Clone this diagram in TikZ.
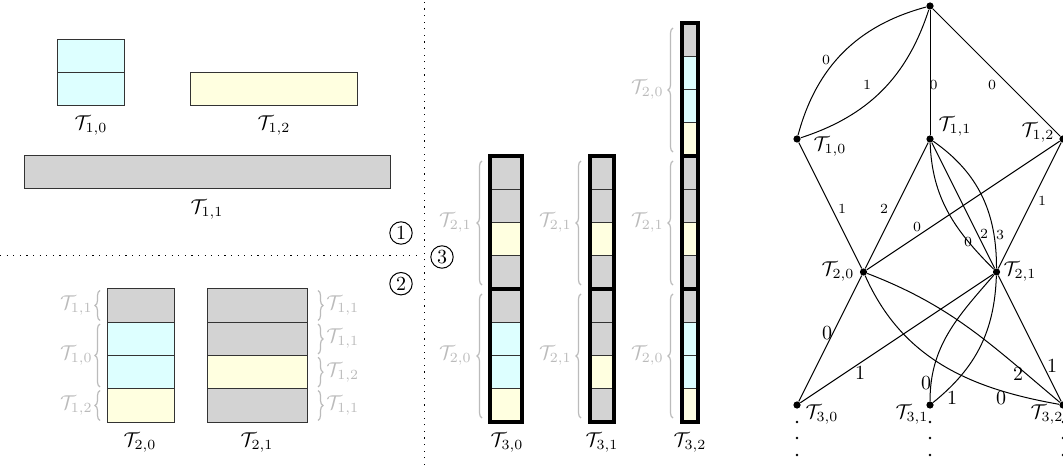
\documentclass[tikz,border=0pt]{standalone}
\usetikzlibrary{decorations.pathreplacing}
\definecolor{cellcyan}{HTML}{DDFFFF}
\definecolor{cellyellow}{HTML}{FFFFE0}
\definecolor{cellgray}{HTML}{D3D3D3}
\definecolor{faint}{HTML}{BBBBBB}

% a stack of cells of height 33.25, drawn downwards from the top edge #3
\newcommand{\cellstack}[4]{%
  \foreach \c [count=\i from 0] in {#4} {
    \path[cellbox, fill=\c] (#1,{#3-\i*33.25}) rectangle (#2,{#3-(\i+1)*33.25});
  }}

\begin{document}
\begin{tikzpicture}[x=0.5pt,y=0.5pt,
  cellbox/.style={draw=black!80, line width=0.5pt},
  blockrim/.style={draw=black, line width=1.6pt},
  faintlabel/.style={text=faint, inner sep=0pt},
  fbrace/.style={draw=faint, line width=0.6pt, decorate,
                 decoration={brace, amplitude=2.5pt}},
  sepline/.style={line width=0.6pt, dash pattern=on 0.6pt off 2.7pt},
  stepmark/.style={circle, draw, line width=0.5pt, inner sep=0pt, minimum size=11.2pt},
  gdot/.style={circle, fill, inner sep=0pt, minimum size=3.6pt},
  tailcont/.style={circle, fill, inner sep=0pt, minimum size=1.3pt},
  gedge/.style={line width=0.5pt},
  wlab/.style={font=\scriptsize, inner sep=0pt},
  wlabbig/.style={inner sep=0pt},
]
\useasboundingbox (0,0) rectangle (1063,465);

% ---------- separators and step marks ----------
\draw[sepline] (0,209.3) -- (419,209.3);
\draw[sepline] (424.3,0) -- (424.3,465);
\node[stepmark] (s1) at (401,232) {1};
\node[stepmark] (s2) at (401,181.3) {2};
\node[stepmark] (s3) at (442,208) {3};

% ---------- level 1 tiles ----------
\cellstack{57}{124}{425.5}{cellcyan,cellcyan}
\path[cellbox, fill=cellyellow] (190,359) rectangle (357,392.25);
\path[cellbox, fill=cellgray] (24,276) rectangle (390,309.25);
\node (t10) at (91,339) {$\mathcal{T}_{1,0}$};
\node (t12) at (274,339) {$\mathcal{T}_{1,2}$};
\node (t11) at (207,255) {$\mathcal{T}_{1,1}$};

% ---------- level 2 tiles ----------
\cellstack{107}{174}{176}{cellgray,cellcyan,cellcyan,cellyellow}
\cellstack{207}{307}{176}{cellgray,cellgray,cellyellow,cellgray}
\node (t20) at (140,22) {$\mathcal{T}_{2,0}$};
\node (t21) at (257,22) {$\mathcal{T}_{2,1}$};

\draw[fbrace] (100,144.5) -- (100,174.5);
\draw[fbrace] (100,78) -- (100,141);
\draw[fbrace] (100,44.5) -- (100,74.5);
\node[faintlabel, anchor=east] (p1) at (93,159.4) {$\mathcal{T}_{1,1}$};
\node[faintlabel, anchor=east] (p2) at (93,109.5) {$\mathcal{T}_{1,0}$};
\node[faintlabel, anchor=east] (p3) at (93,59.6) {$\mathcal{T}_{1,2}$};

\draw[fbrace] (318,174.5) -- (318,144.5);
\draw[fbrace] (318,141) -- (318,111);
\draw[fbrace] (318,107.75) -- (318,78);
\draw[fbrace] (318,74.5) -- (318,44.5);
\node[faintlabel, anchor=west] (q1) at (326,159.4) {$\mathcal{T}_{1,1}$};
\node[faintlabel, anchor=west] (q2) at (326,126.1) {$\mathcal{T}_{1,1}$};
\node[faintlabel, anchor=west] (q3) at (326,92.9) {$\mathcal{T}_{1,2}$};
\node[faintlabel, anchor=west] (q4) at (326,59.6) {$\mathcal{T}_{1,1}$};

% ---------- level 3 tiles ----------
\cellstack{490}{522}{309}{cellgray,cellgray,cellyellow,cellgray}
\cellstack{490}{522}{176}{cellgray,cellcyan,cellcyan,cellyellow}
\draw[blockrim] (490,176) rectangle (522,309);
\draw[blockrim] (490,43) rectangle (522,176);

\cellstack{590}{614}{309}{cellgray,cellgray,cellyellow,cellgray}
\cellstack{590}{614}{176}{cellgray,cellgray,cellyellow,cellgray}
\draw[blockrim] (590,176) rectangle (614,309);
\draw[blockrim] (590,43) rectangle (614,176);

\cellstack{682}{698}{442}{cellgray,cellcyan,cellcyan,cellyellow}
\cellstack{682}{698}{309}{cellgray,cellgray,cellyellow,cellgray}
\cellstack{682}{698}{176}{cellgray,cellcyan,cellcyan,cellyellow}
\draw[blockrim] (682,309) rectangle (698,442);
\draw[blockrim] (682,176) rectangle (698,309);
\draw[blockrim] (682,43) rectangle (698,176);

\node (t30) at (507,22) {$\mathcal{T}_{3,0}$};
\node (t31) at (602,22) {$\mathcal{T}_{3,1}$};
\node (t32) at (690,22) {$\mathcal{T}_{3,2}$};

\draw[fbrace] (482,180) -- (482,304);
\draw[fbrace] (482,47) -- (482,171);
\node[faintlabel, anchor=east] (u1) at (472,242.5) {$\mathcal{T}_{2,1}$};
\node[faintlabel, anchor=east] (u2) at (472,109.5) {$\mathcal{T}_{2,0}$};

\draw[fbrace] (581,180) -- (581,304);
\draw[fbrace] (581,47) -- (581,171);
\node[faintlabel, anchor=east] (v1) at (572,242.5) {$\mathcal{T}_{2,1}$};
\node[faintlabel, anchor=east] (v2) at (572,109.5) {$\mathcal{T}_{2,1}$};

\draw[fbrace] (673,313) -- (673,437);
\draw[fbrace] (673,180) -- (673,304);
\draw[fbrace] (673,47) -- (673,171);
\node[faintlabel, anchor=east] (w1) at (664,375.5) {$\mathcal{T}_{2,0}$};
\node[faintlabel, anchor=east] (w2) at (664,242.5) {$\mathcal{T}_{2,1}$};
\node[faintlabel, anchor=east] (w3) at (664,109.5) {$\mathcal{T}_{2,0}$};

% ---------- graph of tilings ----------
\node[gdot] (r)  at (930,459) {};
\node[gdot] (a0) at (797,326) {};
\node[gdot] (a1) at (930,326) {};
\node[gdot] (a2) at (1063,326) {};
\node[gdot] (b0) at (863.5,193) {};
\node[gdot] (b1) at (996.5,193) {};
\node[gdot] (c0) at (797,60) {};
\node[gdot] (c1) at (930,60) {};
\node[gdot] (c2) at (1063,60) {};

\draw[gedge] (r) to[bend right=30] (a0);
\draw[gedge] (r) to[bend left=27] (a0);
\draw[gedge] (r) -- (a1);
\draw[gedge] (r) -- (a2);
\draw[gedge] (a0) -- (b0);
\draw[gedge] (a1) -- (b0);
\draw[gedge] (a2) -- (b0);
\draw[gedge] (a1) to[out=-88,in=135] (b1);
\draw[gedge] (a1) -- (b1);
\draw[gedge] (a1) to[out=-35,in=90] (b1);
\draw[gedge] (a2) -- (b1);
\draw[gedge] (b0) -- (c0);
\draw[gedge] (b1) -- (c0);
\draw[gedge] (b1) to[out=-131,in=90] (c1);
\draw[gedge] (b1) to[out=-92,in=39] (c1);
\draw[gedge] (b0) to[out=-66,in=170] (c2);
\draw[gedge] (b0) to[out=-21,in=140] (c2);
\draw[gedge] (b1) -- (c2);

% edge weights
\node[wlab] (e1)  at (826,405) {0};
\node[wlab] (e2)  at (867,380) {1};
\node[wlab] (e3)  at (933.5,380) {0};
\node[wlab] (e4)  at (992,380) {0};
\node[wlab] (e5)  at (842,256) {1};
\node[wlab] (e6)  at (884,256) {2};
\node[wlab] (e7)  at (917,238) {0};
\node[wlab] (e8)  at (968,223) {0};
\node[wlab] (e9)  at (984,231) {2};
\node[wlab] (e10) at (1000,230) {3};
\node[wlab] (e11) at (1042,264) {1};
\node[wlabbig] (e12) at (827,132) {0};
\node[wlabbig] (e13) at (860,92) {1};
\node[wlabbig] (e14) at (926,82) {0};
\node[wlabbig] (e15) at (952,67) {1};
\node[wlabbig] (e16) at (1001,67) {0};
\node[wlabbig] (e17) at (1018,91) {2};
\node[wlabbig] (e18) at (1052,99) {1};

% vertex names
\node (g10) at (830,318) {$\mathcal{T}_{1,0}$};
\node (g11) at (955,338) {$\mathcal{T}_{1,1}$};
\node (g12) at (1038,332) {$\mathcal{T}_{1,2}$};
\node (g20) at (838,193) {$\mathcal{T}_{2,0}$};
\node (g21) at (1020,193) {$\mathcal{T}_{2,1}$};
\node (g30) at (822,50) {$\mathcal{T}_{3,0}$};
\node (g31) at (912,50) {$\mathcal{T}_{3,1}$};
\node (g32) at (1047,50) {$\mathcal{T}_{3,2}$};

% the sequence goes on below level 3
\foreach \x/\k in {797/0,930/1,1063/2} {
  \node[tailcont] (d\k a) at (\x,43) {};
  \node[tailcont] (d\k b) at (\x,27) {};
  \node[tailcont] (d\k c) at (\x,10) {};
}
\end{tikzpicture}
\end{document}
